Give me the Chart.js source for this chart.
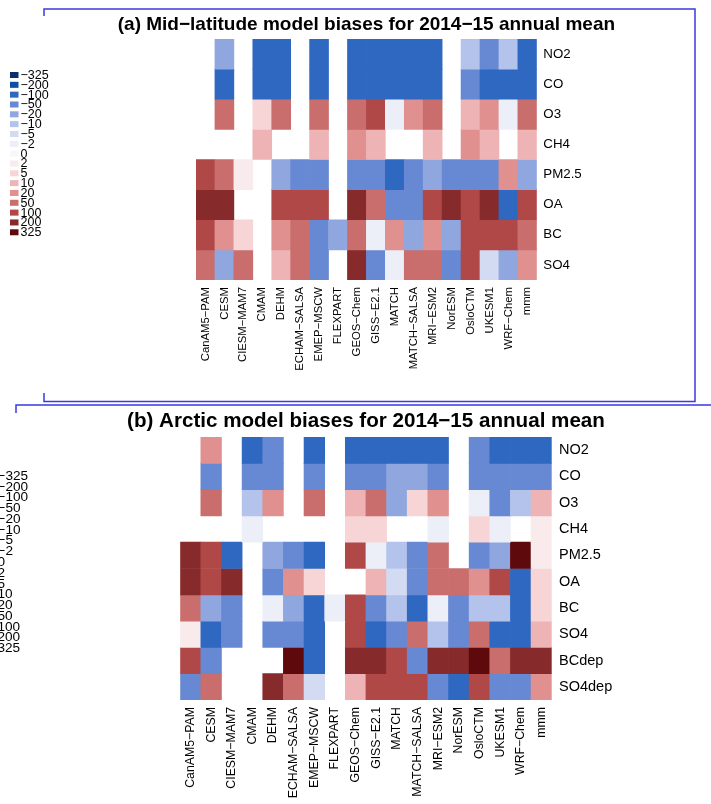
<!DOCTYPE html>
<html>
<head>
<meta charset="utf-8">
<script src="https://cdn.jsdelivr.net/npm/chart.js@4.4.0/dist/chart.umd.min.js"></script>
<style>
  body { margin: 0; background: #fff; }
  #wrap { position: relative; width: 711px; height: 804px; }
  canvas { position: absolute; left: 0; top: 0; }
</style>
</head>
<body>
<div id="wrap">
  <canvas id="chartA" width="711" height="804"></canvas>
  <canvas id="chartB" width="711" height="804"></canvas>
</div>
<script>
// colour classes of the bias legend
const levels = [-325, -200, -100, -50, -20, -10, -5, -2, 0, 2, 5, 10, 20, 50, 100, 200, 325];
const levelColors = ['#0b2f6e', '#0e4f9f', '#2f68c1', '#6788d2', '#8fa6df', '#b3c3eb', '#d3dbf3', '#eceff8',
  '#f7f7f7', '#f9ebeb', '#f7d4d5', '#eeb3b5', '#e0908f', '#c96e6c', '#b04848', '#862a2b', '#5e090c'];

const models = ['CanAM5\u2212PAM', 'CESM', 'CIESM\u2212MAM7', 'CMAM', 'DEHM', 'ECHAM\u2212SALSA', 'EMEP\u2212MSCW',
  'FLEXPART', 'GEOS\u2212Chem', 'GISS\u2212E2.1', 'MATCH', 'MATCH\u2212SALSA', 'MRI\u2212ESM2', 'NorESM',
  'OsloCTM', 'UKESM1', 'WRF\u2212Chem', 'mmm'];

const n = null;

// (a) mid-latitude
const speciesA = ['NO2', 'CO', 'O3', 'CH4', 'PM2.5', 'OA', 'BC', 'SO4'];
const aNO2  = [n, -20, n, -100, -100, n, -100, n, -100, -100, -100, -100, -100, n, -10, -50, -10, -100];
const aCO   = [n, -100, n, -100, -100, n, -100, n, -100, -100, -100, -100, -100, n, -50, -100, -100, -100];
const aO3   = [n, 50, n, 5, 50, n, 50, n, 50, 100, -2, 20, 50, n, 10, 20, -2, 50];
const aCH4  = [n, n, n, 10, n, n, 10, n, 20, 10, n, n, 10, n, 20, 10, n, 10];
const aPM25 = [100, 50, 2, n, -20, -50, -50, n, -50, -50, -100, -50, -20, -50, -50, -50, 20, -20];
const aOA   = [200, 200, n, n, 100, 100, 100, n, 200, 50, -50, -50, 100, 200, 100, 200, -100, 100];
const aBC   = [100, 20, 5, n, 20, 50, -50, -20, 50, -2, 20, -20, 20, -20, 100, 100, 100, 50];
const aSO4  = [50, -20, 50, n, 10, 50, -50, n, 200, -50, -2, 50, 50, -50, 100, -5, -20, 20];

// (b) Arctic
const speciesB = ['NO2', 'CO', 'O3', 'CH4', 'PM2.5', 'OA', 'BC', 'SO4', 'BCdep', 'SO4dep'];
const bNO2    = [n, 20, n, -100, -50, n, -100, n, -100, -100, -100, -100, -100, n, -50, -100, -100, -100];
const bCO     = [n, -50, n, -50, -50, n, -50, n, -50, -50, -20, -20, -50, n, -50, -50, -50, -50];
const bO3     = [n, 50, n, -10, 20, n, 50, n, 10, 50, -20, 5, 20, n, -2, -50, -10, 10];
const bCH4    = [n, n, n, -2, n, n, n, n, 5, 5, n, n, -2, n, 5, -2, n, 2];
const bPM25   = [200, 100, -100, n, -20, -50, -100, n, 100, -2, -10, -50, 50, n, -50, -20, 325, 2];
const bOA     = [200, 100, 200, n, -50, 20, 5, n, n, 10, -5, -50, 50, 50, 20, 100, -100, 5];
const bBC     = [50, -20, -50, n, -2, -20, -100, -2, 100, -50, -10, -100, -2, -50, -10, -10, -100, 5];
const bSO4    = [2, -100, -50, n, -50, -50, -100, n, 100, -100, -50, 50, -10, -50, 50, -100, -100, 10];
const bBCdep  = [100, -50, n, n, n, 325, -100, n, 200, 200, 100, -50, 200, 200, 325, 50, 200, 200];
const bSO4dep = [-50, 50, n, n, 200, 50, -5, n, 10, 100, 100, 100, -50, -100, 100, -50, -50, 20];

const FONT = "'Liberation Sans', Arial, Helvetica, sans-serif";

function colorOf(v) {
  return levelColors[levels.indexOf(v)];
}

function makeDatasets(rows) {
  return rows.map((vals, r) => ({
    data: vals.map(v => v === null ? null : [r, r + 1]),
    backgroundColor: vals.map(v => v === null ? 'rgba(0,0,0,0)' : colorOf(v)),
    borderWidth: 0,
    grouped: false,
    barPercentage: 1,
    categoryPercentage: 1
  }));
}

function decor(opt) {
  return {
    id: 'decor',
    afterDraw(chart) {
      const c = chart.ctx;
      const area = chart.chartArea;
      c.save();
      // frame
      c.strokeStyle = '#3a3ae0';
      c.lineWidth = 1.5;
      c.beginPath();
      opt.frame.forEach(seg => {
        c.moveTo(seg[0], seg[1]);
        for (let i = 2; i < seg.length; i += 2) c.lineTo(seg[i], seg[i + 1]);
      });
      c.stroke();
      // title
      c.fillStyle = '#000';
      c.font = 'bold ' + opt.titleSize + 'px ' + FONT;
      c.textAlign = 'center';
      c.textBaseline = 'middle';
      c.fillText(opt.title, (area.left + area.right) / 2, opt.titleY);
      // colour legend
      c.font = opt.legSize + 'px ' + FONT;
      c.textAlign = 'left';
      levels.forEach((lv, i) => {
        const y = opt.legY + i * opt.legStep;
        c.fillStyle = levelColors[i];
        c.fillRect(opt.legX - 10.5, y - 3, 8.5, 6);
        c.fillStyle = '#000';
        c.fillText(lv < 0 ? '\u2212' + Math.abs(lv) : String(lv), opt.legX, y + 0.5);
      });
      c.restore();
    }
  };
}

function heatmap(id, rows, names, g) {
  new Chart(document.getElementById(id), {
    type: 'bar',
    data: { labels: models, datasets: makeDatasets(rows) },
    options: {
      responsive: false,
      animation: false,
      events: [],
      layout: { padding: { left: g.left, top: g.top, right: 0, bottom: 0 } },
      plugins: { legend: { display: false }, tooltip: { enabled: false } },
      scales: {
        x: {
          type: 'category',
          grid: { display: false, drawTicks: false },
          border: { display: false },
          ticks: {
            autoSkip: false, minRotation: 90, maxRotation: 90, padding: g.xPad,
            color: '#000', font: { family: FONT, size: g.xSize }
          },
          afterFit: s => { s.height = 804 - g.bottom; }
        },
        y: {
          type: 'linear',
          position: 'right',
          min: 0,
          max: names.length,
          reverse: true,
          grid: { display: false, drawTicks: false },
          border: { display: false },
          afterBuildTicks: s => { s.ticks = names.map((_, i) => ({ value: i + 0.5 })); },
          ticks: {
            autoSkip: false, padding: g.yPad, color: '#000',
            font: { family: FONT, size: g.ySize },
            callback: (v, i) => names[i]
          },
          afterFit: s => { s.width = 711 - g.right; }
        }
      }
    },
    plugins: [decor(g)]
  });
}

heatmap('chartA', [aNO2, aCO, aO3, aCH4, aPM25, aOA, aBC, aSO4], speciesA, {
  left: 196, right: 536.8, top: 39, bottom: 280,
  xPad: 7, xSize: 11.3, yPad: 6.5, ySize: 13.3,
  title: '(a) Mid\u2212latitude model biases for 2014\u221215 annual mean', titleSize: 19, titleY: 25,
  legX: 20.5, legY: 75, legStep: 9.83, legSize: 12.5,
  frame: [[44, 16, 44, 9, 695, 9, 695, 401.5, 44, 401.5, 44, 393]]
});

heatmap('chartB', [bNO2, bCO, bO3, bCH4, bPM25, bOA, bBC, bSO4, bBCdep, bSO4dep], speciesB, {
  left: 180.2, right: 551.7, top: 437, bottom: 700,
  xPad: 7, xSize: 12.3, yPad: 7.3, ySize: 14.5,
  title: '(b) Arctic model biases for 2014\u221215 annual mean', titleSize: 20.6, titleY: 421,
  legX: -2.5, legY: 475.5, legStep: 10.78, legSize: 13.6,
  frame: [[16, 413, 16, 405, 711, 405]]
});
</script>
</body>
</html>
